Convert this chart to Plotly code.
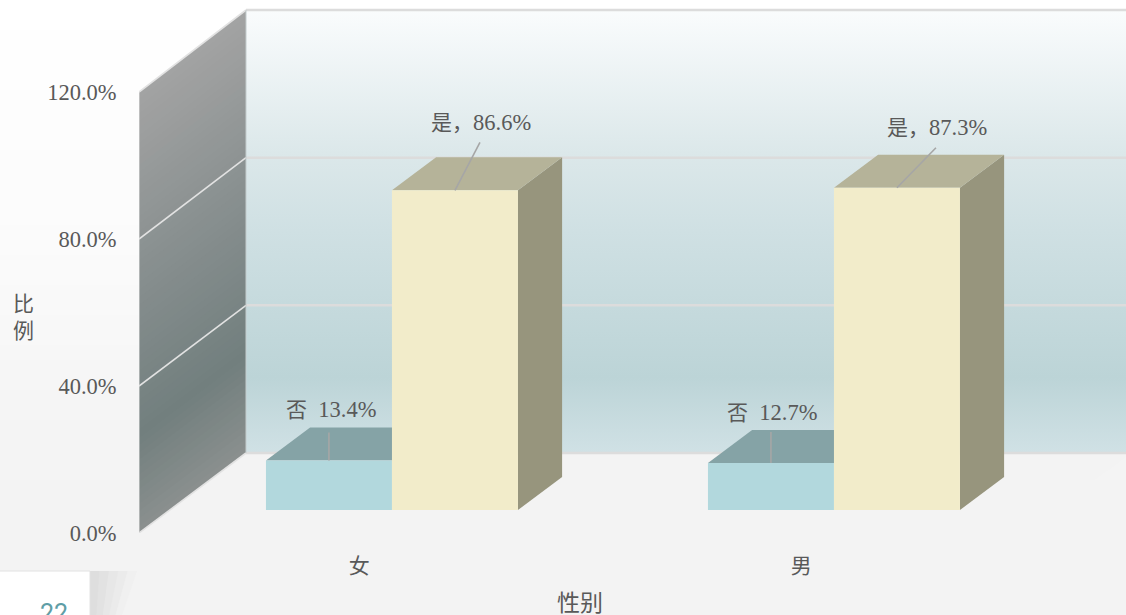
import plotly.graph_objects as go

# ---- data ----
categories = ["女", "男"]
no_values = [13.4, 12.7]
yes_values = [86.6, 87.3]
no_name = "否"
yes_name = "是"
y_ticks = [0, 40, 80, 120]
y_tick_labels = ["0.0%", "40.0%", "80.0%", "120.0%"]
x_title = "性别"
y_title_chars = ["比", "例"]

# ---- page and pseudo-3D geometry ----
W, H = 1126, 615
LEFT, AXIS_Y = 139, 533
PX_PER_CAT = 442.0
PX_PER_PCT = 3.675
CAT0_PX = 361.2
DEPTH_DX, DEPTH_DY = 107.0, 80.0
BACK_STRETCH = 443.0 / 441.0
BAR_W = 126.0 / PX_PER_CAT
D_FRONT, D_BACK = 23.0 / 80.0, 56.0 / 80.0
X_MIN, X_MAX = (LEFT - CAT0_PX) / PX_PER_CAT, (W - CAT0_PX) / PX_PER_CAT
Y_MAX = AXIS_Y / PX_PER_PCT
WALL_END = 1.5


def proj(u, v, d):
    k = 1.0 if d == 0 else BACK_STRETCH
    return u + d * DEPTH_DX / PX_PER_CAT, v * k + d * DEPTH_DY / PX_PER_PCT


def poly(points, color=None, line=None, width=0, **extra):
    xs, ys = zip(*[proj(*p) for p in points])
    kw = dict(x=list(xs), y=list(ys), mode="lines", hoverinfo="skip", showlegend=False)
    if color is not None or "fillgradient" in extra:
        kw["fill"] = "toself"
    if color is not None:
        kw["fillcolor"] = color
    kw["line"] = dict(color=line or "rgba(0,0,0,0)", width=width)
    kw.update(extra)
    return go.Scatter(**kw)


def lerp_hex(stops, t):
    for (a, ca), (b, cb) in zip(stops, stops[1:]):
        if a <= t <= b:
            f = (t - a) / (b - a)
            rgb = [round(int(ca[i:i + 2], 16) * (1 - f) + int(cb[i:i + 2], 16) * f) for i in (1, 3, 5)]
            return "rgb(%d,%d,%d)" % tuple(rgb)
    return stops[-1][1]


fig = go.Figure()

# left wall: bands that follow the depth direction, painted top to bottom
wall_stops = [(0, "#8b908f"), (26, "#727f7e"), (60, "#828b8b"), (120, "#a3a3a3")]
for v in range(120, 0, -2):
    fig.add_trace(poly([(X_MIN, 0, 0), (X_MIN, v, 0), (X_MIN, v, 1), (X_MIN, 0, 1)],
                       color=lerp_hex(wall_stops, v - 1)))

# floor
fig.add_trace(poly([(X_MIN, 0, 0), (X_MIN, 0, 1), (WALL_END, 0, 1), (WALL_END, 0, 0)], color="#f3f3f3"))

# back wall
fig.add_trace(poly([(X_MIN, 0, 1), (X_MIN, 120, 1), (WALL_END, 120, 1), (WALL_END, 0, 1), (X_MIN, 0, 1)],
                   fillcolor="rgba(0,0,0,0)",
                   fillgradient=dict(type="vertical", colorscale=[
                       [0, "#d0e1e5"], [0.17, "#bcd4d7"], [0.5, "#cfe0e3"], [0.68, "#dce8ea"], [1, "#fafcfd"]])))

# gridlines and frame
for v in y_ticks:
    fig.add_trace(poly([(X_MIN, v, 0), (X_MIN, v, 1)], line="#e2e2e2", width=1.6))
    fig.add_trace(poly([(X_MIN, v, 1), (WALL_END, v, 1)], line="#dcdcdc", width=2.5))
fig.add_trace(poly([(X_MIN, 0, 0), (X_MIN, 120, 0)], line="#dcdcdc", width=1))
fig.add_trace(poly([(X_MIN, 0, 1), (X_MIN, 120, 1)], line="#c4cccd", width=1))


def bar(u0, u1, v, front, top, side):
    fig.add_trace(poly([(u1, 0, D_FRONT), (u1, v, D_FRONT), (u1, v, D_BACK), (u1, 0, D_BACK)], color=side))
    fig.add_trace(poly([(u0, v, D_FRONT), (u0, v, D_BACK), (u1, v, D_BACK), (u1, v, D_FRONT)], color=top))
    fig.add_trace(poly([(u0, 0, D_FRONT), (u0, v, D_FRONT), (u1, v, D_FRONT), (u1, 0, D_FRONT)], color=front))


for i, _ in enumerate(categories):
    bar(i - BAR_W, i, no_values[i], "#b2d8dd", "#85a3a6", "#748f92")
for i, _ in enumerate(categories):
    bar(i, i + BAR_W, yes_values[i], "#f2ecca", "#b5b399", "#97957d")

# leader lines, and the data labels at the end of each
NUM_FAMILY = "Liberation Serif, serif"
label_font = dict(family=NUM_FAMILY, size=22.5, color="#595959")
cjk = '<span style="font-family:\'Noto Sans CJK SC\';font-size:21px">%s</span>'
# pixel offsets from the middle of the bar's front top edge: leader end, label centre
no_leader = [(0, -28), (0, -31)]
no_label = [(2, -53), (1, -52)]
yes_leader = [(25, -48), (39, -40)]
yes_label = [(26, -69), (40, -62)]


def leader(u, v, off, label_off, text):
    x0, y0 = proj(u, v, D_FRONT)
    x1 = x0 + off[0] / PX_PER_CAT
    y1 = y0 - off[1] / PX_PER_PCT
    fig.add_trace(go.Scatter(x=[x0, x1], y=[y0, y1], mode="lines", hoverinfo="skip", showlegend=False,
                             line=dict(color="#a6a6a6", width=1.6)))
    fig.add_annotation(x=x0, y=y0, xref="x", yref="y", xshift=label_off[0], yshift=-label_off[1],
                       text=text, showarrow=False, font=label_font, xanchor="center", yanchor="middle")


for i, _ in enumerate(categories):
    leader(i - BAR_W / 2, no_values[i], no_leader[i], no_label[i],
           (cjk % no_name) + "  %.1f%%" % no_values[i])
    leader(i + BAR_W / 2, yes_values[i], yes_leader[i], yes_label[i],
           (cjk % (yes_name + "，")) + "%.1f%%" % yes_values[i])

# page background bands, white at the top to light grey at the bottom
bg_stops = [(0, "#ffffff"), (250, "#fbfbfb"), (400, "#f5f5f5"), (500, "#f3f3f3"), (615, "#f3f3f3")]
shapes = []
step = 15
for y in range(0, H, step):
    shapes.append(dict(type="rect", xref="paper", yref="paper", layer="below", line_width=0,
                       x0=0, x1=1, y0=1 - (y + step + 1) / H, y1=1 - y / H,
                       fillcolor=lerp_hex(bg_stops, y + step / 2)))

# corner page-number box and its shadow
px, py = (lambda x: x / W), (lambda y: 1 - y / H)
for f, c in [(1.0, "#f0f0f0"), (0.8, "#ebebeb"), (0.6, "#e7e7e7"), (0.4, "#e2e2e2"), (0.2, "#dedede")]:
    x_top, x_bot = 90 + 47 * f, 90 + 32 * f
    shapes.append(dict(type="path", xref="paper", yref="paper", layer="below", line_width=0, fillcolor=c,
                       path=f"M {px(90)} {py(571)} L {px(x_top)} {py(571)} L {px(x_bot)} {py(615)} L {px(90)} {py(615)} Z"))
shapes.append(dict(type="rect", xref="paper", yref="paper", layer="below", x0=px(-2), x1=px(90), y0=py(620), y1=py(571),
                   fillcolor="#ffffff", line=dict(color="#e2e2e2", width=1)))

fig.add_annotation(xref="paper", yref="paper", x=px(54), y=py(613), text="22", showarrow=False,
                   font=dict(family="Roboto", size=25, color="#5f9ea6"), xanchor="center", yanchor="middle")

title_font = dict(family="Noto Sans CJK SC", size=21, color="#595959")
for ch, yp in zip(y_title_chars, [302, 329]):
    fig.add_annotation(xref="paper", yref="paper", x=px(23), y=py(yp), text=ch, showarrow=False,
                       font=title_font, xanchor="center", yanchor="middle")
fig.add_annotation(xref="paper", yref="paper", x=px(580), y=py(601), text=x_title, showarrow=False,
                   font=dict(title_font, size=23), xanchor="center", yanchor="middle")

fig.update_layout(
    width=W, height=H, autosize=False, margin=dict(l=0, r=0, t=0, b=0),
    paper_bgcolor="#ffffff", plot_bgcolor="rgba(0,0,0,0)", showlegend=False, shapes=shapes,
    xaxis=dict(domain=[LEFT / W, 1], range=[X_MIN, X_MAX], tickmode="array", automargin=False,
               tickvals=list(range(len(categories))), ticktext=categories,
               showgrid=False, zeroline=False, showline=False, ticks="outside", ticklen=14,
               ticklabelshift=-2, tickcolor="rgba(0,0,0,0)", tickfont=title_font),
    yaxis=dict(domain=[(H - AXIS_Y) / H, 1], range=[0, Y_MAX], tickmode="array", automargin=False,
               tickvals=y_ticks, ticktext=y_tick_labels,
               showgrid=False, zeroline=False, showline=False, ticks="outside", ticklen=17,
               tickcolor="rgba(0,0,0,0)",
               tickfont=dict(family=NUM_FAMILY, size=22.5, color="#595959")),
)

fig.write_html("out.html", config={"displayModeBar": False},
               post_script="document.body.style.margin='0';document.body.style.overflow='hidden';")
